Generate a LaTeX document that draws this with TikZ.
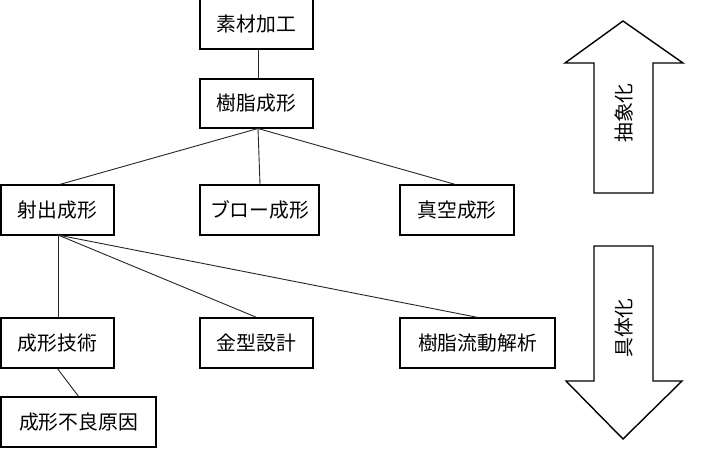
\documentclass[tikz,border=0pt]{standalone}
\usepackage{fontspec}
\setmainfont{Noto Sans CJK JP}
\begin{document}
\begin{tikzpicture}[x=1pt,y=-1pt,
  box/.style={draw=black,line width=1.3pt,rectangle,inner sep=0pt,
    font=\fontsize{19.8}{20}\selectfont},
  conn/.style={draw=black!85,line width=0.9pt},
  bigarrow/.style={draw=black,line width=1.4pt,fill=white,line join=miter},
  lbl/.style={inner sep=0pt,rotate=90,font=\fontsize{19.8}{20}\selectfont}]
\useasboundingbox[fill=white] (0,0) rectangle (702,453);
% boxes
\node[box,minimum width=113pt,minimum height=50pt] (a) at (256.5,24) {\raisebox{-3pt}{素材加工}};
\node[box,minimum width=113pt,minimum height=49pt] (b) at (256.5,103.5) {樹脂成形};
\node[box,minimum width=113pt,minimum height=50pt] (c) at (57.5,210) {射出成形};
\node[box,minimum width=119pt,minimum height=50pt] (d) at (259.5,210) {ブロー成形};
\node[box,minimum width=114pt,minimum height=50pt] (e) at (457,210) {真空成形};
\node[box,minimum width=113pt,minimum height=50pt] (f) at (57.5,343) {成形技術};
\node[box,minimum width=113pt,minimum height=50pt] (g) at (256.5,343) {金型設計};
\node[box,minimum width=155pt,minimum height=50pt] (h) at (477.5,343) {樹脂流動解析};
\node[box,minimum width=155pt,minimum height=50pt] (i) at (78.5,422) {成形不良原因};
% connectors
\coordinate (bs) at (258,128.5);
\coordinate (cs) at (58,235);
\draw[conn] (a.south -| bs) -- (b.north -| bs);
\draw[conn] (bs) -- (c.north -| 60,0);
\draw[conn] (bs) -- (d.north -| 260,0);
\draw[conn] (bs) -- (e.north -| 455,0);
\draw[conn] (cs) -- (f.north -| cs);
\draw[conn] (cs) -- (g.north);
\draw[conn] (cs) -- (h.north);
\draw[conn] (f.south) -- (i.north);
% big arrows
\draw[bigarrow] (623,21) -- (683,63) -- (653,63) -- (653,193) -- (594,193) -- (594,63) -- (565,63) -- cycle;
\draw[bigarrow] (594,246) -- (653,246) -- (653,381) -- (682,381) -- (623,439) -- (566,381) -- (594,381) -- cycle;
\node[lbl] (up) at (623.5,113) {抽象化};
\node[lbl] (dn) at (623.5,328) {具体化};
\end{tikzpicture}
\end{document}
